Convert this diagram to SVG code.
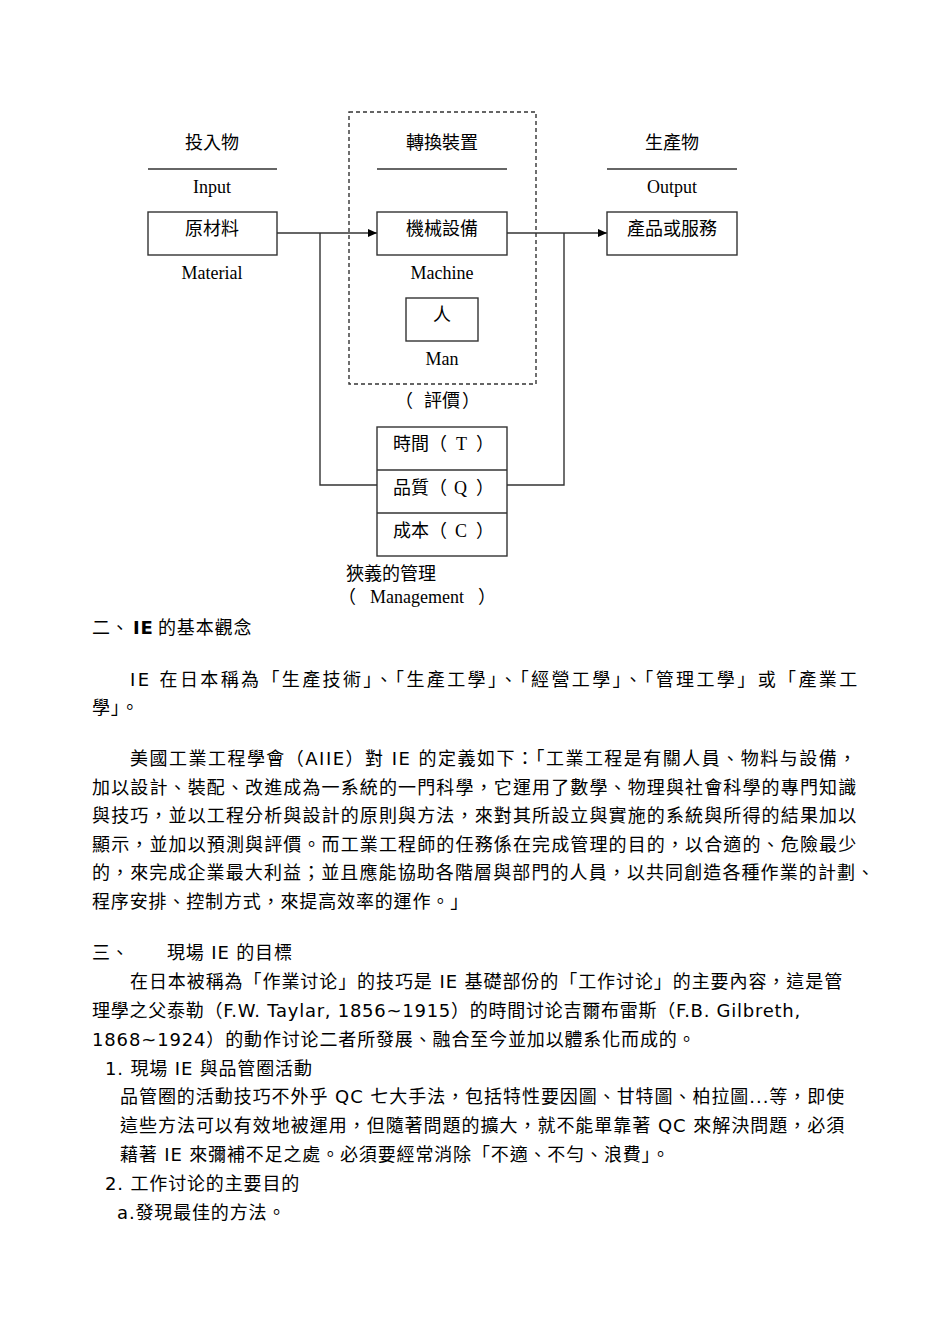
<svg xmlns="http://www.w3.org/2000/svg" width="950" height="1344" viewBox="0 0 950 1344">
<defs>
<style>
.cjk{font-family:"Noto Sans CJK TC","Noto Sans CJK SC",sans-serif;font-size:18px;fill:#000}
.ser{font-family:"Liberation Serif","Noto Sans CJK TC",serif;font-size:18px;fill:#000}
.body{font-family:"DejaVu Sans","Noto Sans CJK TC",sans-serif;font-size:18px;fill:#000;letter-spacing:0.85px}
.box{fill:#fff;stroke:#333;stroke-width:1.4}
.ln{fill:none;stroke:#333;stroke-width:1.4}
.dash{fill:none;stroke:#333;stroke-width:1.4;stroke-dasharray:4 3}
</style>
<marker id="arr" markerWidth="10" markerHeight="10" refX="9" refY="5" orient="auto" markerUnits="userSpaceOnUse">
<path d="M0,1 L9,5 L0,9 Z" fill="#000"/>
</marker>
</defs>
<rect width="950" height="1344" fill="#fff"/>

<g id="group-transform">
<rect class="dash" x="349" y="112" width="187" height="272"/>
</g>

<g id="connectors">
<path class="ln" d="M277,233 H377" marker-end="url(#arr)"/>
<path class="ln" d="M320,233 V485 H377"/>
<path class="ln" d="M507,233 H607" marker-end="url(#arr)"/>
<path class="ln" d="M564,233 V485 H507"/>
</g>

<g id="input">
<text class="cjk" x="212" y="149" text-anchor="middle">投入物</text>
<line class="ln" x1="148" y1="169" x2="277" y2="169"/>
<text class="ser" x="212" y="193" text-anchor="middle">Input</text>
</g>
<g id="material">
<rect class="box" x="148" y="212" width="129" height="43"/>
<text class="cjk" x="212" y="235" text-anchor="middle">原材料</text>
<text class="ser" x="212" y="279" text-anchor="middle">Material</text>
</g>

<g id="transform-header">
<text class="cjk" x="442" y="149" text-anchor="middle">轉換裝置</text>
<line class="ln" x1="377" y1="169" x2="507" y2="169"/>
</g>
<g id="machine">
<rect class="box" x="377" y="212" width="130" height="43"/>
<text class="cjk" x="442" y="235" text-anchor="middle">機械設備</text>
<text class="ser" x="442" y="279" text-anchor="middle">Machine</text>
</g>
<g id="man">
<rect class="box" x="406" y="298" width="72" height="43"/>
<text class="cjk" x="442" y="321" text-anchor="middle">人</text>
<text class="ser" x="442" y="365" text-anchor="middle">Man</text>
</g>

<g id="output">
<text class="cjk" x="672" y="149" text-anchor="middle">生產物</text>
<line class="ln" x1="607" y1="169" x2="737" y2="169"/>
<text class="ser" x="672" y="193" text-anchor="middle">Output</text>
</g>
<g id="product">
<rect class="box" x="607" y="212" width="130" height="43"/>
<text class="cjk" x="672" y="235" text-anchor="middle">產品或服務</text>
</g>

<g id="evaluation">
<text class="cjk" x="395" y="407">（<tspan x="424">評價</tspan><tspan x="462">）</tspan></text>
<rect class="box" x="377" y="427" width="130" height="129"/>
<line class="ln" x1="377" y1="470" x2="507" y2="470"/>
<line class="ln" x1="377" y1="513" x2="507" y2="513"/>
<text class="cjk" x="393" y="450">時間（<tspan class="ser" x="456">T</tspan><tspan x="476">）</tspan></text>
<text class="cjk" x="393" y="494">品質（<tspan class="ser" x="454">Q</tspan><tspan x="476">）</tspan></text>
<text class="cjk" x="393" y="537">成本（<tspan class="ser" x="455">C</tspan><tspan x="476">）</tspan></text>
</g>
<g id="management">
<text class="cjk" x="346" y="580">狹義的管理</text>
<text class="cjk" x="338" y="603">（<tspan class="ser" x="370">Management</tspan><tspan x="478">）</tspan></text>
</g>

<g id="text-body">
<text class="body" x="92" y="634">二、<tspan x="133" font-weight="bold">IE</tspan><tspan x="158">的基本觀念</tspan></text>
<text class="body" x="130" y="686" textLength="728" lengthAdjust="spacing">IE 在日本稱為「生產技術」、「生產工學」、「經營工學」、「管理工學」或「產業工</text>
<text class="body" x="92" y="714">學」。</text>

<text class="body" x="130" y="765" textLength="727" lengthAdjust="spacing">美國工業工程學會（AIIE）對 IE 的定義如下：「工業工程是有關人員、物料与設備，</text>
<text class="body" x="92" y="794" textLength="765" lengthAdjust="spacing">加以設計、裝配、改進成為一系統的一門科學，它運用了數學、物理與社會科學的專門知識</text>
<text class="body" x="92" y="822" textLength="765" lengthAdjust="spacing">與技巧，並以工程分析與設計的原則與方法，來對其所設立與實施的系統與所得的結果加以</text>
<text class="body" x="92" y="851" textLength="765" lengthAdjust="spacing">顯示，並加以預測與評價。而工業工程師的任務係在完成管理的目的，以合適的、危險最少</text>
<text class="body" x="92" y="879" textLength="783" lengthAdjust="spacing">的，來完成企業最大利益；並且應能協助各階層與部門的人員，以共同創造各種作業的計劃、</text>
<text class="body" x="92" y="908">程序安排、控制方式，來提高效率的運作。」</text>

<text class="body" x="92" y="959">三、<tspan x="167">現場 IE 的目標</tspan></text>
<text class="body" x="130" y="988" textLength="713" lengthAdjust="spacing">在日本被稱為「作業讨论」的技巧是 IE 基礎部份的「工作讨论」的主要內容，這是管</text>
<text class="body" x="92" y="1017" textLength="709" lengthAdjust="spacing">理學之父泰勒（F.W. Taylar, 1856~1915）的時間讨论吉爾布雷斯（F.B. Gilbreth,</text>
<text class="body" x="92" y="1046">1868~1924）的動作讨论二者所發展、融合至今並加以體系化而成的。</text>
<text class="body" x="105" y="1075">1. 現場 IE 與品管圈活動</text>
<text class="body" x="120" y="1103" textLength="725" lengthAdjust="spacing">品管圈的活動技巧不外乎 QC 七大手法，包括特性要因圖、甘特圖、柏拉圖...等，即使</text>
<text class="body" x="120" y="1132" textLength="725" lengthAdjust="spacing">這些方法可以有效地被運用，但隨著問題的擴大，就不能單靠著 QC 來解決問題，必須</text>
<text class="body" x="120" y="1161">藉著 IE 來彌補不足之處。必須要經常消除「不適、不勻、浪費」。</text>
<text class="body" x="105" y="1190">2. 工作讨论的主要目的</text>
<text class="body" x="117" y="1219">a.發現最佳的方法。</text>
</g>
</svg>
